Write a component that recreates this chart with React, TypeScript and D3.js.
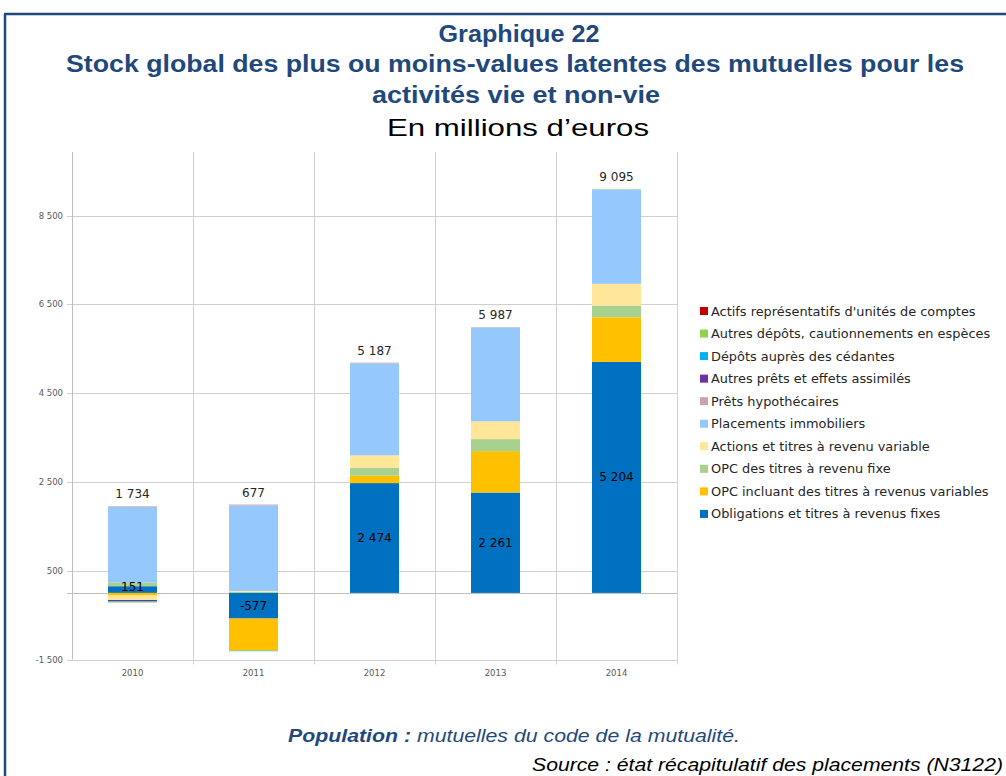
import React from "react";
import * as d3 from "d3";

const years = ["2010", "2011", "2012", "2013", "2014"];

// Series in stacking order (bottom first)
const obligations = [151, -577, 2474, 2261, 5204];
const opcVariables = [-60, -725, 166, 933, 1005];
const opcFixe = [85, 25, 181, 271, 264];
const actions = [-100, 20, 279, 400, 490];
const placementsImmo = [1700, 1925, 2072, 2115, 2126];
const pretsHypo = [15, 20, 15, 5, 0];
const autresPrets = [-30, 0, 0, 0, 0];
const depotsCedantes = [-12, -11, 0, 0, 0];
const autresDepots = [-15, 0, 0, 2, 6];
const actifsUC = [0, 0, 0, 0, 0];

const totals = [1734, 677, 5187, 5987, 9095];

const seriesNames = [
  "Obligations et titres à revenus fixes",
  "OPC incluant des titres à revenus variables",
  "OPC des titres à revenu fixe",
  "Actions et titres à revenu variable",
  "Placements immobiliers",
  "Prêts hypothécaires",
  "Autres prêts et effets assimilés",
  "Dépôts auprès des cédantes",
  "Autres dépôts, cautionnements en espèces",
  "Actifs représentatifs d'unités de comptes",
];
const seriesValues = [
  obligations, opcVariables, opcFixe, actions, placementsImmo,
  pretsHypo, autresPrets, depotsCedantes, autresDepots, actifsUC,
];
const seriesColors = [
  "#0070C0", "#FFC000", "#A9D18E", "#FFE699", "#95C8FC",
  "#C9A0B4", "#7030A0", "#00B0F0", "#92D050", "#C00000",
];

const yTicks = [-1500, 500, 2500, 4500, 6500, 8500];

const fr = d3.formatLocale({ decimal: ",", thousands: " ", grouping: [3], currency: ["", " €"], minus: "-" });
const fmt = fr.format(",d");

const BLUE = "#1F497D";

export default function App() {
  const plotL = 72, plotR = 677, plotT = 149, plotB = 659.5;
  const x = d3.scaleBand<string>().domain(years).range([plotL, plotR]).paddingInner(0.595).paddingOuter(0.2975);
  const y = d3.scaleLinear().domain([-1500, 10000]).range([plotB, plotT]);
  const step = x.step();

  const rows = years.map((yr, i) => {
    const r: any = { year: yr };
    seriesNames.forEach((n, k) => (r[n] = seriesValues[k][i]));
    return r;
  });
  const stack = d3.stack<any>().keys(seriesNames).offset(d3.stackOffsetDiverging);
  const stacked = stack(rows);

  const posTop = years.map((_, i) => seriesValues.reduce((s, v) => s + Math.max(0, v[i]), 0));

  const legendY0 = 311, legendStep = 22.55;
  const legendOrder = seriesNames.map((_, k) => k).reverse();

  return (
    <svg width={1006} height={776} style={{ position: "absolute", left: 0, top: 0, background: "#fff" }}>
      <rect x={0} y={0} width={1006} height={776} fill="#fff" />
      {/* frame */}
      <line x1={4} x2={1006} y1={14} y2={14} stroke={BLUE} strokeWidth={2.5} />
      <line x1={5} x2={5} y1={14} y2={776} stroke={BLUE} strokeWidth={2.5} />

      {/* titles */}
      <g fontFamily="'Liberation Sans', Arial, sans-serif" textAnchor="middle">
        <text x={519} y={42} fontSize={23} fontWeight="bold" fill={BLUE} textLength={161} lengthAdjust="spacingAndGlyphs">Graphique 22</text>
        <text x={515} y={72} fontSize={23} fontWeight="bold" fill={BLUE} textLength={898} lengthAdjust="spacingAndGlyphs">Stock global des plus ou moins-values latentes des mutuelles pour les</text>
        <text x={516} y={103} fontSize={23} fontWeight="bold" fill={BLUE} textLength={288} lengthAdjust="spacingAndGlyphs">activités vie et non-vie</text>
        <text x={518} y={136} fontSize={24} fill="#000" textLength={262} lengthAdjust="spacingAndGlyphs">En millions d’euros</text>
      </g>

      {/* gridlines */}
      <g stroke="#D0D0D0" strokeWidth={1}>
        {yTicks.map((t) => (
          <line key={t} x1={plotL - 5} x2={plotR} y1={Math.round(y(t)) + 0.5} y2={Math.round(y(t)) + 0.5} />
        ))}
        {years.map((yr, i) => (
          <line key={yr} x1={Math.round(plotL + step * (i + 1)) + 0.5} x2={Math.round(plotL + step * (i + 1)) + 0.5} y1={plotT + 3} y2={plotB + 5} />
        ))}
        <line x1={plotL - 5} x2={plotR} y1={Math.round(y(0)) + 0.5} y2={Math.round(y(0)) + 0.5} stroke="#BFBFBF" />
        <line x1={plotL + 0.5} x2={plotL + 0.5} y1={plotT + 3} y2={plotB} stroke="#BFBFBF" />
      </g>

      {/* y tick labels */}
      <g fontFamily="'DejaVu Sans', Verdana, sans-serif" fontSize={8.5} fill="#595959" textAnchor="end">
        {yTicks.map((t) => (
          <text key={t} x={63} y={y(t) + 3}>{fmt(t)}</text>
        ))}
      </g>
      {/* x labels */}
      <g fontFamily="'DejaVu Sans', Verdana, sans-serif" fontSize={8.5} fill="#595959" textAnchor="middle">
        {years.map((yr) => (
          <text key={yr} x={(x(yr) as number) + x.bandwidth() / 2} y={676}>{yr}</text>
        ))}
      </g>

      {/* bars */}
      {stacked.map((s, k) => (
        <g key={s.key} fill={seriesColors[k]}>
          {s.map((d, i) => {
            const y0 = y(d[0]), y1 = y(d[1]);
            const h = Math.abs(y0 - y1);
            if (h <= 0) return null;
            return <rect key={i} x={x(years[i])} width={x.bandwidth()} y={Math.min(y0, y1)} height={h} />;
          })}
        </g>
      ))}

      {/* obligations labels */}
      <g fontFamily="'DejaVu Sans', Verdana, sans-serif" fontSize={12} fill="#000" textAnchor="middle">
        {stacked[0].map((d, i) => (
          <text key={i} x={(x(years[i]) as number) + x.bandwidth() / 2} y={(y(d[0]) + y(d[1])) / 2 + (i === 0 ? 1 : 4)}>{fmt(obligations[i])}</text>
        ))}
      </g>
      {/* totals */}
      <g fontFamily="'DejaVu Sans', Verdana, sans-serif" fontSize={12} fill="#262626" textAnchor="middle">
        {totals.map((t, i) => (
          <text key={i} x={(x(years[i]) as number) + x.bandwidth() / 2} y={y(posTop[i]) - 8}>{fmt(t)}</text>
        ))}
      </g>

      {/* legend */}
      <g fontFamily="'DejaVu Sans', Verdana, sans-serif" fontSize={12.9} fill="#262626">
        {legendOrder.map((k, j) => (
          <g key={k} transform={`translate(700, ${legendY0 + j * legendStep})`}>
            <rect x={0} y={-4} width={8} height={8} fill={seriesColors[k]} />
            <text x={11} y={4.5}>{seriesNames[k]}</text>
          </g>
        ))}
      </g>

      {/* footer */}
      <g fontFamily="'Liberation Sans', Arial, sans-serif" fontStyle="italic">
        <text x={288} y={742} fontSize={18} fill={BLUE} textLength={452} lengthAdjust="spacingAndGlyphs">
          <tspan fontWeight="bold">Population :</tspan> mutuelles du code de la mutualité.
        </text>
        <text x={532} y={771} fontSize={18} fill="#000" textLength={471} lengthAdjust="spacingAndGlyphs">Source : état récapitulatif des placements (N3122)</text>
      </g>
    </svg>
  );
}
